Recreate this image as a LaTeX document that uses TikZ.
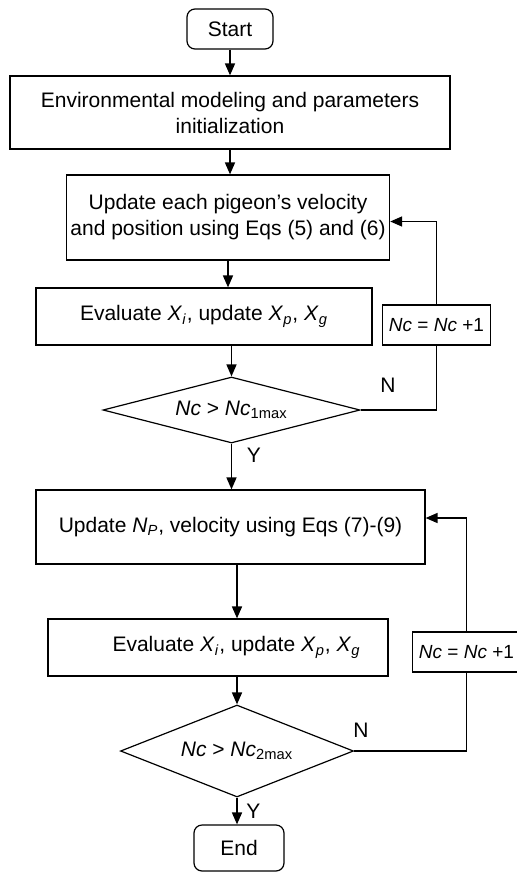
\documentclass[tikz,border=0pt]{standalone}
\usepackage{fontspec}
\setmainfont{Liberation Sans}
\usetikzlibrary{arrows.meta, shapes.geometric}

\begin{document}
\begin{tikzpicture}[
            > = {Triangle[length=6pt, width=5pt]}, % arrow head style
            x = 1pt, y = 1pt,
            semithick, % line style
            font = \fontsize{10.5}{13}\selectfont
        ]

        \tikzstyle{process}=[
            draw = black,
            rectangle,
            align = center,
            inner sep = 2pt
        ]
        \tikzstyle{terminal}=[
            process,
            rounded corners = 4pt,
            minimum width = 43pt,
            minimum height = 20pt
        ]
        \tikzstyle{decision}=[
            draw = black,
            diamond,
            inner sep = 0pt
        ]
        \tikzstyle{counter}=[
            draw = black,
            rectangle,
            font = \fontsize{9.5}{11}\selectfont,
            minimum width = 52.5pt,
            minimum height = 20pt
        ]
        \tikzstyle{flow}=[->, thick]

        \useasboundingbox (0,0) rectangle (258,-436.5);

        \node[terminal] (start) at (115,-14.5) {Start};
        \node[process, minimum width=220pt, minimum height=36.5pt] (init) [below of=start, node distance=41.75pt] {Environmental modeling and parameters\\initialization};
        \node[process, minimum width=161pt, minimum height=42.5pt] (upd1) [below of=init, node distance=52.5pt, xshift=-1pt] {Update each pigeon’s velocity\\and position using Eqs (5) and (6)};
        \node[process, minimum width=168pt, minimum height=28.5pt] (eval1) [below of=upd1, node distance=49.5pt, xshift=-12pt] {Evaluate \textit{X}\textsubscript{\textit{i}}, update \textit{X}\textsubscript{\textit{p}}, \textit{X}\textsubscript{\textit{g}}};
        \node[counter] (nc1) [right of=eval1, node distance=116.25pt, yshift=-4.25pt] {\textit{Nc} = \textit{Nc} +1};
        \node[decision, aspect=3.9, minimum width=128.5pt, minimum height=33pt] (dec1) [below of=eval1, node distance=46.75pt, xshift=13.75pt] {\textit{Nc} > \textit{Nc}\textsubscript{1max}};
        \node[process, minimum width=194.5pt, minimum height=37pt] (upd2) [below of=dec1, node distance=58.5pt, xshift=-0.5pt] {Update \textit{N}\textsubscript{\textit{P}}, velocity using Eqs (7)-(9)};
        \node[process, minimum width=170pt, minimum height=28.5pt] (eval2) [below of=upd2, node distance=60.25pt, xshift=-6.25pt] {\hspace*{18.5pt}Evaluate \textit{X}\textsubscript{\textit{i}}, update \textit{X}\textsubscript{\textit{p}}, \textit{X}\textsubscript{\textit{g}}};
        \node[counter] (nc2) [right of=eval2, node distance=124.25pt, yshift=-2.25pt] {\textit{Nc} = \textit{Nc} +1};
        \node[decision, aspect=2.5, minimum width=116.5pt, minimum height=46pt] (dec2) [below of=eval2, node distance=51.75pt, xshift=9.5pt] {\textit{Nc} > \textit{Nc}\textsubscript{2max}};
        \node[terminal, minimum width=45pt, minimum height=23pt] (end) [below of=dec2, node distance=48.5pt, xshift=1pt] {End};

        % main flow
        \draw[flow] (start) -- (init);
        \draw[flow] (init.south) -- (init.south |- upd1.north);
        \draw[flow] (upd1.south) -- (upd1.south |- eval1.north);
        \draw[flow] (dec1.north |- eval1.south) -- (dec1.north);
        \draw[flow] (dec1.south) -- node[pos=0.25, right=4pt] {Y} (dec1.south |- upd2.north);
        \draw[flow] (dec2.north |- upd2.south) -- (dec2.north |- eval2.north);
        \draw[flow] (dec2.north |- eval2.south) -- (dec2.north);
        \draw[flow] (dec2.south) -- node[right=1pt] {Y} (dec2.south |- end.north);

        % loops
        \draw (dec1.east) -| node[pos=0.18, above=5pt] {N} (nc1.south);
        \draw[flow] (nc1.north) |- ([yshift=-2pt]upd1.east);
        \draw (dec2.east) -| node[pos=0.03, above=3pt] {N} (nc2.south);
        \draw[flow] (nc2.north) |- ([yshift=4.5pt]upd2.east);

    \end{tikzpicture}
\end{document}
